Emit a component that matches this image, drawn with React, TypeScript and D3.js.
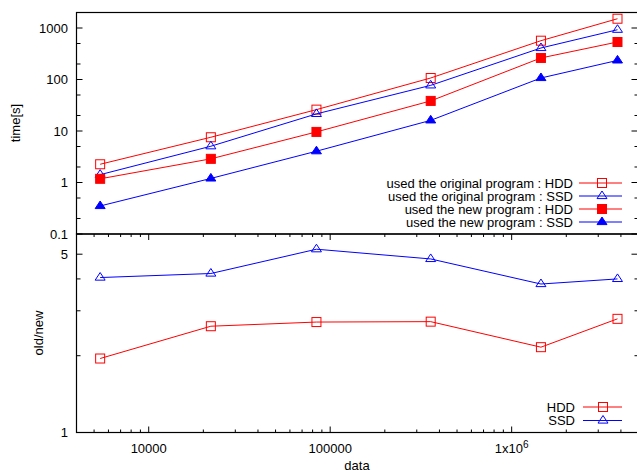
import React from "react";
import * as d3 from "d3";

const xData = [5400, 22000, 84000, 358000, 1450000, 3830000];
const origHDD = [2.26, 7.56, 26, 107, 567, 1514];
const origSSD = [1.42, 5.06, 21.5, 77, 409, 926];
const newHDD = [1.18, 2.88, 9.6, 38.4, 262, 535];
const newSSD = [0.35, 1.2, 4.05, 16.1, 107, 235];
const ratioHDD = [1.95, 2.61, 2.71, 2.72, 2.16, 2.79];
const ratioSSD = [4.05, 4.2, 5.23, 4.79, 3.82, 4.0];

const topMajor = [0.1, 1, 10, 100, 1000];
const topMinor = [0.2, 0.5, 2, 5, 20, 50, 200, 500];
const botMajor = [1, 5];
const botMinor = [2, 3, 4];
const xMajor = [10000, 100000, 1000000];
const xMinor = [5000, 6000, 7000, 8000, 9000, 20000, 30000, 40000, 50000, 60000, 70000, 80000, 90000,
  200000, 300000, 400000, 500000, 600000, 700000, 800000, 900000, 2000000, 3000000, 4000000];

const RED = "#ff0000";
const BLUE = "#0000ff";
const FONT = "'Liberation Sans', Arial, sans-serif";

const L = 76.5, R = 638.5, T = 12.5, MID = 234, B = 432.5;

const x = d3.scaleLog().domain([4000, 5e6]).range([L, R]);
const yTop = d3.scaleLog().domain([0.1, 2000]).range([MID, T]);
const yBot = d3.scaleLog().domain([1, 6]).range([B, MID]);

type Kind = "sq" | "sqf" | "tri" | "trif";

function Marker({ kind, cx, cy, color }: { kind: Kind; cx: number; cy: number; color: string }) {
  if (kind === "sq" || kind === "sqf") {
    return (
      <rect x={cx - 4.5} y={cy - 4.5} width={9} height={9}
        fill={kind === "sqf" ? color : "none"} stroke={color} strokeWidth={1} />
    );
  }
  const p = `${cx},${cy - 5} ${cx - 5},${cy + 2.6} ${cx + 5},${cy + 2.6}`;
  return <polygon points={p} fill={kind === "trif" ? color : "none"} stroke={color} strokeWidth={1} />;
}

function Series({ data, y, color, kind }: { data: number[]; y: any; color: string; kind: Kind }) {
  const line = d3.line<number>().x((_, i) => x(xData[i])).y((d) => y(d));
  return (
    <g>
      <path d={line(data) || ""} fill="none" stroke={color} strokeWidth={1} />
      {data.map((d, i) => (
        <Marker key={i} kind={kind} cx={x(xData[i])} cy={y(d)} color={color} />
      ))}
    </g>
  );
}

function LegendRow({ label, y, color, kind, textEnd, x1, x2, mx }: any) {
  return (
    <g>
      <text x={textEnd} y={y} dy="0.35em" textAnchor="end" fontSize={13} fontFamily={FONT}>{label}</text>
      <line x1={x1} x2={x2} y1={y} y2={y} stroke={color} strokeWidth={1} />
      <Marker kind={kind} cx={mx} cy={y} color={color} />
    </g>
  );
}

export default function App() {
  const topSeries: { data: number[]; color: string; kind: Kind; label: string }[] = [
    { data: origHDD, color: RED, kind: "sq", label: "used the original program : HDD" },
    { data: origSSD, color: BLUE, kind: "tri", label: "used the original program : SSD" },
    { data: newHDD, color: RED, kind: "sqf", label: "used the new program : HDD" },
    { data: newSSD, color: BLUE, kind: "trif", label: "used the new program : SSD" },
  ];
  const botSeries: { data: number[]; color: string; kind: Kind; label: string }[] = [
    { data: ratioHDD, color: RED, kind: "sq", label: "HDD" },
    { data: ratioSSD, color: BLUE, kind: "tri", label: "SSD" },
  ];
  return (
    <svg width={637} height={470} style={{ position: "absolute", left: 0, top: 0, background: "#fff" }}
      fontFamily={FONT}>
      <rect x={0} y={0} width={637} height={470} fill="#fff" />
      {/* top panel ticks */}
      {topMajor.map((v) => (
        <g key={"tm" + v}>
          <line x1={L} x2={L + 6} y1={yTop(v)} y2={yTop(v)} stroke="#000" />
          <line x1={R} x2={R - 7} y1={yTop(v)} y2={yTop(v)} stroke="#000" />
          <text x={68} y={yTop(v)} dy="0.35em" textAnchor="end" fontSize={13}>{String(v)}</text>
        </g>
      ))}
      {topMinor.map((v) => (
        <g key={"tn" + v}>
          <line x1={L} x2={L + 4} y1={yTop(v)} y2={yTop(v)} stroke="#000" />
          <line x1={R} x2={R - 4} y1={yTop(v)} y2={yTop(v)} stroke="#000" />
        </g>
      ))}
      {/* bottom panel y ticks */}
      {botMajor.map((v) => (
        <g key={"bm" + v}>
          <line x1={L} x2={L + 6} y1={yBot(v)} y2={yBot(v)} stroke="#000" />
          <line x1={R} x2={R - 7} y1={yBot(v)} y2={yBot(v)} stroke="#000" />
          <text x={68} y={yBot(v)} dy="0.35em" textAnchor="end" fontSize={13}>{String(v)}</text>
        </g>
      ))}
      {botMinor.map((v) => (
        <g key={"bn" + v}>
          <line x1={L} x2={L + 4} y1={yBot(v)} y2={yBot(v)} stroke="#000" />
          <line x1={R} x2={R - 4} y1={yBot(v)} y2={yBot(v)} stroke="#000" />
        </g>
      ))}
      {/* x ticks on bottom panel */}
      {xMajor.map((v) => (
        <g key={"xm" + v}>
          <line x1={x(v)} x2={x(v)} y1={B} y2={B - 6} stroke="#000" />
          <line x1={x(v)} x2={x(v)} y1={MID} y2={MID + 6} stroke="#000" />
        </g>
      ))}
      {xMinor.map((v) => (
        <g key={"xn" + v}>
          <line x1={x(v)} x2={x(v)} y1={B} y2={B - 3} stroke="#000" />
          <line x1={x(v)} x2={x(v)} y1={MID} y2={MID + 3} stroke="#000" />
        </g>
      ))}
      <text x={x(10000)} y={452.5} textAnchor="middle" fontSize={13}>10000</text>
      <text x={x(100000)} y={452.5} textAnchor="middle" fontSize={13}>100000</text>
      <text x={x(1000000)} y={452.5} textAnchor="middle" fontSize={13}>
        1x10<tspan fontSize={10} dy={-5}>6</tspan>
      </text>
      {/* frames */}
      <rect x={L} y={T} width={R - L} height={MID - T} fill="none" stroke="#000" strokeWidth={1.2} />
      <rect x={L} y={MID} width={R - L} height={B - MID} fill="none" stroke="#000" strokeWidth={1.2} />
      {/* series */}
      {topSeries.map((s, i) => (
        <Series key={"ts" + i} data={s.data} y={yTop} color={s.color} kind={s.kind} />
      ))}
      {botSeries.map((s, i) => (
        <Series key={"bs" + i} data={s.data} y={yBot} color={s.color} kind={s.kind} />
      ))}
      {/* legends */}
      {topSeries.map((s, i) => (
        <LegendRow key={"tl" + i} label={s.label} y={183 + i * 13} color={s.color} kind={s.kind}
          textEnd={573} x1={579} x2={622} mx={602} />
      ))}
      {botSeries.map((s, i) => (
        <LegendRow key={"bl" + i} label={s.label} y={407 + i * 13.5} color={s.color} kind={s.kind}
          textEnd={575} x1={583} x2={622} mx={603} />
      ))}
      {/* axis labels */}
      <text transform="translate(20,123) rotate(-90)" textAnchor="middle" fontSize={13}>time[s]</text>
      <text transform="translate(43,333) rotate(-90)" textAnchor="middle" fontSize={13}>old/new</text>
      <text x={357} y={470} textAnchor="middle" fontSize={13}>data</text>
    </svg>
  );
}
